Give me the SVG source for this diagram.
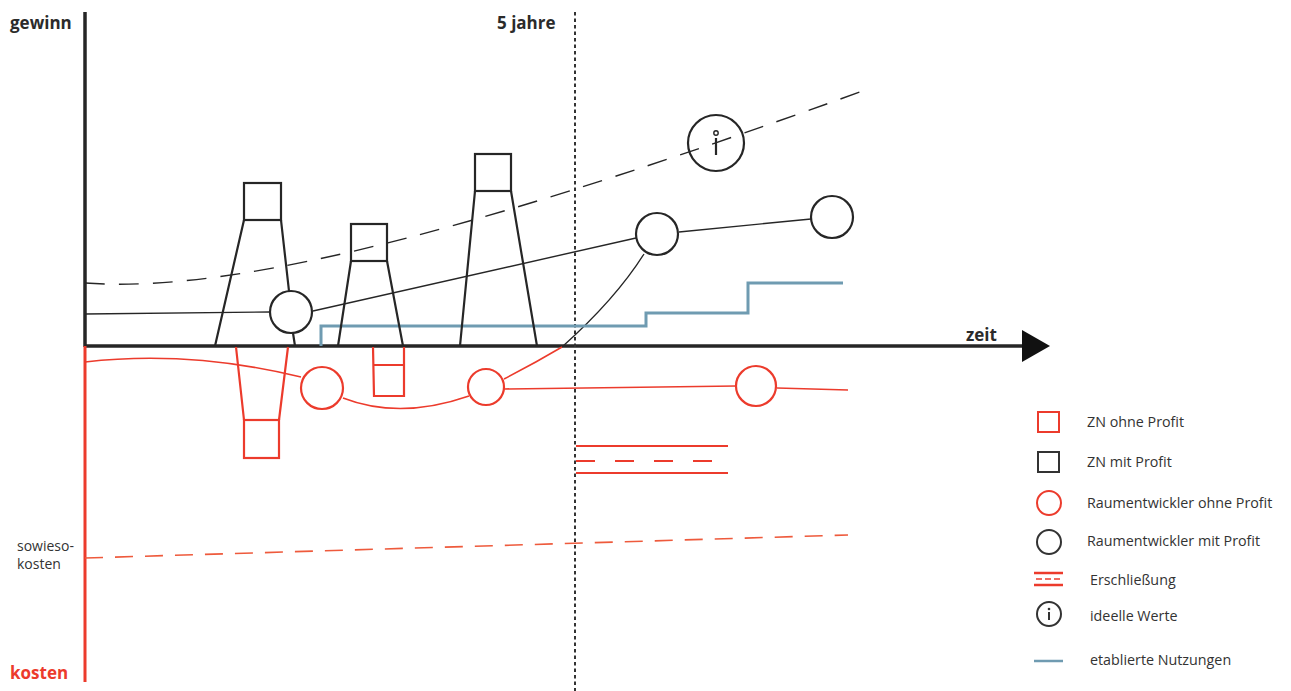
<svg xmlns="http://www.w3.org/2000/svg" width="1291" height="691" viewBox="0 0 1291 691">
<defs>
<style>
.blk{fill:none;stroke:#262626;stroke-width:2.2}
.thin{fill:none;stroke:#262626;stroke-width:1.4}
.red{fill:none;stroke:#ec3b2c;stroke-width:2.2}
.redthin{fill:none;stroke:#ec3b2c;stroke-width:1.6}
.blue{fill:none;stroke:#6f9bb1;stroke-width:3}
.ax{fill:none;stroke:#262626;stroke-width:3.5}
.lbl{font-family:"Open Sans","Liberation Sans",sans-serif;font-weight:bold;font-size:17px;fill:#2b2b2b}
.leg{font-family:"Open Sans","Liberation Sans",sans-serif;font-size:14.3px;fill:#333}
.note{font-family:"Open Sans","Liberation Sans",sans-serif;font-size:14px;fill:#333}
</style>
</defs>
<rect width="1291" height="691" fill="#fff"/>

<g id="axes">
<line x1="85" y1="12" x2="85" y2="347" class="ax"/>
<line x1="85" y1="346" x2="1024" y2="346" class="ax"/>
<polygon points="1022,330 1050,346 1022,362" fill="#111"/>
<line x1="85" y1="346" x2="85" y2="682" stroke="#ec3b2c" stroke-width="3"/>
<line x1="575" y1="12" x2="575" y2="691" stroke="#333" stroke-width="2" stroke-dasharray="3.5 3"/>
<text x="10" y="29" class="lbl">gewinn</text>
<text x="497" y="29" class="lbl">5 jahre</text>
<text x="966" y="341" class="lbl">zeit</text>
<text x="10" y="679" class="lbl" style="fill:#ec3b2c">kosten</text>
<text x="17" y="551" class="note">sowieso-</text>
<text x="17" y="569" class="note">kosten</text>
</g>

<g id="connectors">
<path d="M85,283 C250,295 520,215 871,88" class="thin" stroke-dasharray="20 14"/>
<path d="M85,314 L270,312" class="thin"/>
<path d="M313,311 Q470,276 636,238" class="thin"/>
<path d="M679,232 L811,219" class="thin"/>
<path d="M562,347 C590,322 620,292 644,254" class="thin"/>
<path d="M504,379 Q535,363 562,347" class="redthin"/>
<path d="M85,362 Q190,350 301,377" class="redthin"/>
<path d="M343,398 Q400,420 469,396" class="redthin"/>
<path d="M504,389 L736,386" class="redthin"/>
<path d="M777,388 L848,390" class="redthin"/>
<path d="M85,558 L848,535" fill="none" stroke="#ee5a3c" stroke-width="1.6" stroke-dasharray="18 12"/>
<path d="M321,346 V326 H646 V313 H748 V283 H843" class="blue"/>
</g>

<g id="zn-profit-1">
<rect x="244" y="183" width="37" height="37" class="blk"/>
<path d="M244,220 L215,346 M281,220 L289,291 M293,333 L295,346" class="blk"/>
</g>
<g id="zn-profit-2">
<rect x="351" y="224" width="36" height="37" class="blk"/>
<path d="M351,261 L338,346 M387,261 L403,346" class="blk"/>
</g>
<g id="zn-profit-3">
<rect x="475" y="154" width="36" height="37" class="blk"/>
<path d="M475,191 L460,346 M511,191 L537,346" class="blk"/>
</g>
<g id="rw-profit-1"><circle cx="291" cy="312" r="21" fill="#fff" class="blk"/></g>
<g id="rw-profit-2"><circle cx="657" cy="234" r="21" fill="#fff" class="blk"/></g>
<g id="rw-profit-3"><circle cx="832" cy="217" r="21" fill="#fff" class="blk"/></g>
<g id="ideal">
<circle cx="716" cy="143" r="28" fill="#fff" class="blk"/>
<circle cx="716" cy="133" r="2.2" fill="none" stroke="#262626" stroke-width="1.4"/>
<line x1="716" y1="138" x2="716" y2="155" stroke="#262626" stroke-width="2.2"/>
</g>

<g id="zn-ohne-1">
<rect x="244" y="420" width="35" height="38" class="red"/>
<path d="M236,347 L244,420 M288,347 L279,420" class="red"/>
</g>
<g id="zn-ohne-2">
<path d="M373,347 L374,396 H404 L404,347 M374,365 H404" class="red"/>
</g>
<g id="rw-ohne-1"><circle cx="322" cy="388" r="21" fill="#fff" class="red"/></g>
<g id="rw-ohne-2"><circle cx="486" cy="387" r="18" fill="#fff" class="red"/></g>
<g id="rw-ohne-3"><circle cx="756" cy="386" r="20" fill="#fff" class="red"/></g>

<g id="erschliessung">
<line x1="576" y1="446" x2="728" y2="446" class="red"/>
<line x1="576" y1="461" x2="716" y2="461" class="red" stroke-width="2.6" stroke-dasharray="19 20"/>
<line x1="576" y1="473" x2="728" y2="473" class="red"/>
</g>

<g id="legend">
<rect x="1038" y="412" width="21" height="20" fill="none" stroke="#ec3b2c" stroke-width="2"/>
<text x="1087" y="427" class="leg">ZN ohne Profit</text>
<rect x="1038" y="452" width="21" height="20" fill="none" stroke="#333" stroke-width="2"/>
<text x="1087" y="467" class="leg">ZN mit Profit</text>
<circle cx="1049" cy="503" r="12" fill="none" stroke="#ec3b2c" stroke-width="2"/>
<text x="1087" y="508" class="leg">Raumentwickler ohne Profit</text>
<circle cx="1049" cy="542" r="12" fill="none" stroke="#333" stroke-width="2"/>
<text x="1087" y="546" class="leg">Raumentwickler mit Profit</text>
<line x1="1034" y1="573" x2="1063" y2="573" stroke="#ec3b2c" stroke-width="2.5"/>
<line x1="1036" y1="579" x2="1063" y2="579" stroke="#ec3b2c" stroke-width="1.6" stroke-dasharray="6 3"/>
<line x1="1034" y1="585" x2="1063" y2="585" stroke="#ec3b2c" stroke-width="2.5"/>
<text x="1090" y="585" class="leg">Erschließung</text>
<circle cx="1049" cy="614" r="12" fill="none" stroke="#333" stroke-width="2"/>
<circle cx="1049" cy="609" r="1.3" fill="#333"/>
<line x1="1049" y1="612" x2="1049" y2="620" stroke="#333" stroke-width="2"/>
<text x="1090" y="621" class="leg">ideelle Werte</text>
<line x1="1034" y1="661" x2="1063" y2="661" stroke="#6f9bb1" stroke-width="2.5"/>
<text x="1090" y="665" class="leg">etablierte Nutzungen</text>
</g>
</svg>
